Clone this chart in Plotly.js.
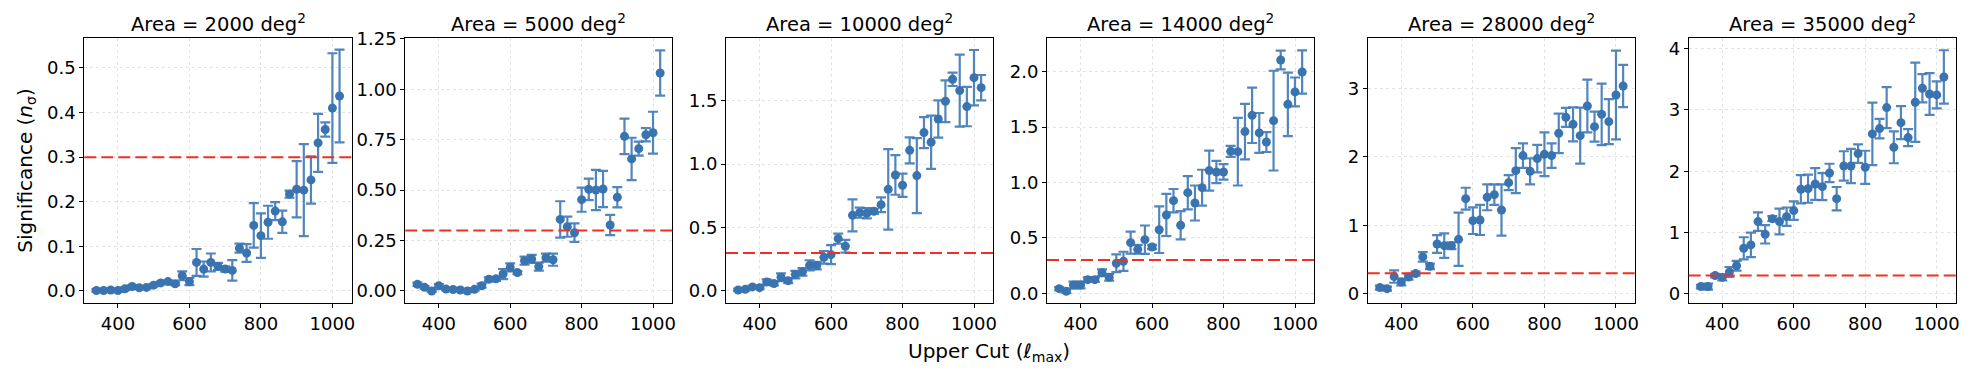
<!DOCTYPE html>
<html><head><meta charset="utf-8">
<script src="https://cdn.plot.ly/plotly-3.0.1.min.js"></script>
<style>html,body{margin:0;padding:0;background:#fff}</style>
</head><body><div id="chart" style="width:1988px;height:374px"></div>
<script>
const lmax = [340,360,380,400,420,440,460,480,500,520,540,560,580,600,620,640,660,680,700,720,740,760,780,800,820,840,860,880,900,920,940,960,980,1000,1020];
const areas = ["2000","5000","10000","14000","28000","35000"];

const sig2000 = [0.001,0.001,0.002,0.001,0.005,0.010,0.007,0.008,0.013,0.018,0.021,0.016,0.034,0.021,0.064,0.049,0.064,0.055,0.049,0.046,0.096,0.085,0.147,0.124,0.154,0.179,0.155,0.217,0.228,0.226,0.249,0.332,0.362,0.410,0.437];
const err2000 = [0.003,0.003,0.003,0.003,0.003,0.003,0.003,0.003,0.003,0.003,0.003,0.003,0.010,0.008,0.030,0.017,0.020,0.008,0.006,0.023,0.010,0.020,0.050,0.050,0.037,0.020,0.025,0.008,0.063,0.103,0.053,0.065,0.016,0.123,0.104];

const sig5000 = [0.033,0.018,0.000,0.026,0.010,0.007,0.005,0.000,0.008,0.026,0.058,0.060,0.084,0.117,0.091,0.150,0.159,0.121,0.165,0.155,0.355,0.319,0.289,0.453,0.504,0.501,0.506,0.327,0.465,0.767,0.655,0.706,0.775,0.785,1.081];
const err5000 = [0.008,0.006,0.005,0.008,0.006,0.006,0.006,0.006,0.006,0.010,0.010,0.010,0.025,0.020,0.008,0.020,0.020,0.020,0.020,0.030,0.090,0.050,0.046,0.060,0.053,0.100,0.090,0.050,0.050,0.088,0.105,0.035,0.033,0.104,0.112];

const sig10000 = [0.008,0.013,0.032,0.026,0.071,0.058,0.108,0.081,0.129,0.150,0.202,0.200,0.265,0.286,0.412,0.352,0.596,0.617,0.612,0.628,0.680,0.801,0.914,0.833,1.108,0.909,1.248,1.172,1.355,1.495,1.668,1.579,1.453,1.681,1.602];
const err10000 = [0.010,0.010,0.010,0.010,0.020,0.015,0.030,0.020,0.030,0.030,0.040,0.030,0.050,0.075,0.040,0.050,0.126,0.040,0.040,0.020,0.058,0.317,0.156,0.092,0.103,0.296,0.122,0.210,0.147,0.164,0.053,0.284,0.155,0.218,0.100];

const sig14000 = [0.042,0.018,0.075,0.075,0.123,0.123,0.186,0.144,0.271,0.289,0.457,0.397,0.484,0.418,0.574,0.707,0.836,0.614,0.908,0.815,0.953,1.107,1.095,1.095,1.281,1.278,1.459,1.606,1.447,1.365,1.558,2.105,1.705,1.817,1.997];
const err14000 = [0.015,0.015,0.030,0.030,0.020,0.020,0.030,0.030,0.080,0.086,0.100,0.040,0.128,0.020,0.210,0.190,0.105,0.128,0.150,0.158,0.162,0.180,0.100,0.070,0.050,0.305,0.250,0.250,0.180,0.090,0.450,0.085,0.286,0.130,0.195];

const sig28000 = [0.088,0.073,0.249,0.171,0.244,0.293,0.537,0.400,0.727,0.702,0.702,0.795,1.390,1.068,1.078,1.410,1.449,1.224,1.624,1.800,2.020,1.790,1.976,2.039,2.020,2.346,2.580,2.478,2.312,2.746,2.444,2.624,2.517,2.907,3.039];
const err28000 = [0.030,0.030,0.090,0.050,0.040,0.030,0.070,0.040,0.130,0.180,0.050,0.390,0.160,0.195,0.220,0.190,0.150,0.375,0.110,0.330,0.180,0.190,0.200,0.320,0.180,0.290,0.140,0.250,0.410,0.385,0.220,0.450,0.330,0.650,0.310];

const sig35000 = [0.12,0.12,0.30,0.27,0.36,0.46,0.745,0.80,1.18,0.973,1.228,1.18,1.26,1.359,1.707,1.717,1.793,1.75,1.973,1.554,2.087,2.087,2.288,2.065,2.609,2.696,3.038,2.391,2.793,2.549,3.125,3.353,3.26,3.245,3.538];
const err35000 = [0.03,0.05,0.03,0.05,0.08,0.08,0.18,0.20,0.15,0.15,0.04,0.21,0.15,0.15,0.23,0.23,0.26,0.22,0.15,0.19,0.24,0.28,0.15,0.27,0.51,0.16,0.335,0.26,0.27,0.14,0.645,0.23,0.34,0.22,0.435];

const threshold = 0.3;
const xTicks = [400,600,800,1000];
const yTicks = [[0,0.1,0.2,0.3,0.4,0.5],[0,0.25,0.5,0.75,1.0,1.25],[0,0.5,1.0,1.5],[0,0.5,1.0,1.5,2.0],[0,1,2,3],[0,1,2,3,4]];
const yFormats = ['.1f','.2f','.1f','.1f','d','d'];
const yRanges = [[-0.0277,0.5665],[-0.0612,1.2533],[-0.0972,1.991],[-0.090,2.3008],[-0.1415,3.737],[-0.152,4.168]];

const sigs = [sig2000,sig5000,sig10000,sig14000,sig28000,sig35000];
const errs = [err2000,err5000,err10000,err14000,err28000,err35000];

const W = 1988, H = 374;
const lefts = [84.3,405.3,726,1047,1367.7,1688.7];
const rights = [351.7,672.3,993.3,1314.3,1635.3,1956];
const plotTop = 38.3, plotBottom = 303.3;
const FONT = 'DejaVu Sans, sans-serif';
const blue = '#3a74b0';

const data = [];
const layout = {
  width: W, height: H,
  margin: {l:0,r:0,t:0,b:0},
  paper_bgcolor: '#fff', plot_bgcolor: '#fff',
  showlegend: false,
  font: {family: FONT, size: 18, color: '#000'},
  shapes: [], annotations: []
};

for (let i = 0; i < 6; i++) {
  const sfx = i === 0 ? '' : String(i+1);
  data.push({
    type: 'scatter', mode: 'markers',
    x: lmax, y: sigs[i],
    xaxis: 'x'+sfx, yaxis: 'y'+sfx,
    marker: {color: blue, size: 9},
    error_y: {type: 'data', array: errs[i], visible: true, color: 'rgba(62,120,180,0.9)', thickness: 2.2, width: 5},
    hoverinfo: 'skip'
  });
  const ax = {
    domain: [lefts[i]/W, rights[i]/W],
    range: [306, 1054],
    tickvals: xTicks, ticktext: xTicks.map(String),
    ticks: 'outside', ticklen: 4, tickwidth: 1, tickcolor: '#000',
    showline: true, linecolor: '#000', linewidth: 1, mirror: true,
    showgrid: true, gridcolor: '#e3e3e3', griddash: 'dot', gridwidth: 1,
    zeroline: false,
    tickfont: {family: FONT, size: 18, color: '#000'},
    anchor: 'y'+sfx
  };
  const ay = {
    domain: [1-plotBottom/H, 1-plotTop/H],
    range: yRanges[i],
    tickvals: yTicks[i], tickformat: yFormats[i],
    ticks: 'outside', ticklen: 4, tickwidth: 1, tickcolor: '#000',
    showline: true, linecolor: '#000', linewidth: 1, mirror: true,
    showgrid: true, gridcolor: '#e3e3e3', griddash: 'dot', gridwidth: 1,
    zeroline: false,
    tickfont: {family: FONT, size: 18, color: '#000'},
    anchor: 'x'+sfx
  };
  layout['xaxis'+sfx] = ax;
  layout['yaxis'+sfx] = ay;
  layout.shapes.push({
    type: 'line', xref: 'x'+sfx+' domain', yref: 'y'+sfx,
    x0: 0, x1: 1, y0: threshold, y1: threshold,
    line: {color: '#f03024', width: 2, dash: '12px,5px'}, layer: 'above'
  });
  layout.annotations.push({
    text: 'Area = ' + areas[i] + ' deg<sup>2</sup>',
    xref: 'paper', yref: 'paper',
    x: (lefts[i]+rights[i])/2/W, y: 1-23/H,
    xanchor: 'center', yanchor: 'middle', showarrow: false,
    font: {family: FONT, size: 19.5, color: '#000'}
  });
}
layout.annotations.push({
  text: 'Significance (<i>n</i><sub>σ</sub>)',
  xref: 'paper', yref: 'paper', x: 26/W, y: 1-170.8/H,
  xanchor: 'center', yanchor: 'middle', textangle: -90, showarrow: false,
  font: {family: FONT, size: 20, color: '#000'}
});
layout.annotations.push({
  text: 'Upper Cut (<i>ℓ</i><sub>max</sub>)',
  xref: 'paper', yref: 'paper', x: 989/W, y: 1-352/H,
  xanchor: 'center', yanchor: 'middle', showarrow: false,
  font: {family: FONT, size: 20, color: '#000'}
});

Plotly.newPlot('chart', data, layout, {staticPlot: true, displayModeBar: false});
</script></body></html>
